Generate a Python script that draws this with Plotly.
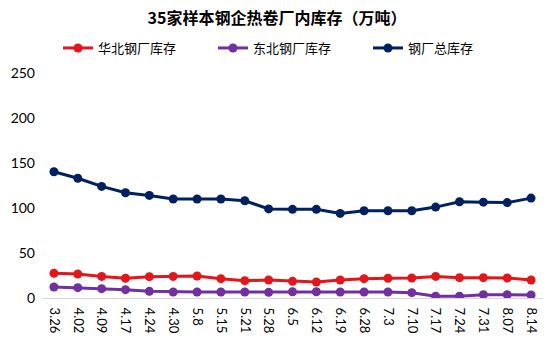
import plotly.graph_objects as go

dates = ["3.26","4.02","4.09","4.17","4.24","4.30","5.8","5.15","5.21","5.28",
         "6.5","6.12","6.19","6.28","7.3","7.10","7.17","7.24","7.31","8.07","8.14"]
huabei = [27.4,26.7,24.0,22.0,23.7,24.0,24.4,21.5,19.3,20.0,
          18.5,17.8,20.0,21.5,22.0,22.2,24.0,22.6,22.6,22.2,20.0]
dongbei = [12.2,11.5,10.4,9.3,7.4,6.7,6.7,6.7,6.7,6.3,
           7.0,7.0,6.7,6.7,6.7,5.9,1.9,1.9,3.7,3.7,3.3]
total = [140.3,133.0,124.0,117.0,114.0,110.0,110.0,110.0,108.0,99.0,
         98.5,98.5,94.0,97.0,97.0,97.0,101.0,107.0,106.5,106.0,111.0]

names = ["华北钢厂库存", "东北钢厂库存", "钢厂总库存"]
colors = ["#E3161C", "#7030A0", "#002060"]
series = [huabei, dongbei, total]

font_cn = "Noto Sans CJK SC, sans-serif"
font_num = "Lato, sans-serif"

fig = go.Figure()
for n, c, s in zip(names, colors, series):
    fig.add_trace(go.Scatter(
        x=dates, y=s, name=n, mode="lines+markers",
        line=dict(color=c, width=3),
        marker=dict(color=c, size=9),
    ))

fig.update_layout(
    width=554, height=354,
    margin=dict(l=42, r=11, t=73, b=56, autoexpand=False),
    paper_bgcolor="white", plot_bgcolor="white",
    title=dict(text="<b>35家样本钢企热卷厂内库存（万吨）</b>",
               x=0.5, xanchor="center", y=1 - 18/354, yanchor="middle",
               font=dict(family=font_cn, size=16, color="#000000")),
    legend=dict(orientation="h", xref="container", x=58/554, xanchor="left",
                y=1 - 48/354, yref="container", yanchor="middle",
                font=dict(family=font_cn, size=13, color="#000000"),
                entrywidth=110, itemwidth=30, bgcolor="rgba(0,0,0,0)",
                tracegroupgap=0),
    showlegend=True,
)
fig.update_xaxes(type="category", showgrid=False, showline=True,
                 linecolor="#D9D9D9", linewidth=1, ticks="",
                 tickangle=90, ticklabelstandoff=6,
                 tickfont=dict(family=font_num, size=13, color="#000000"),
                 range=[-0.5, len(dates) - 0.5])
fig.update_yaxes(range=[0, 250], dtick=50, showgrid=False, showline=False,
                 zeroline=False, ticks="", ticklabelstandoff=6,
                 tickfont=dict(family=font_num, size=14, color="#000000"))

fig.write_html("out.html")
